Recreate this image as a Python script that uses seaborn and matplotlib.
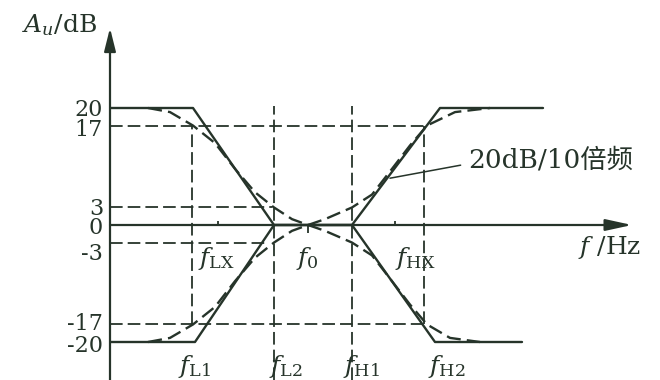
import numpy as np
import pandas as pd
import seaborn as sns
import matplotlib.pyplot as plt
from matplotlib.transforms import ScaledTranslation

# x positions are in "screen" units along the log-frequency axis, y in dB
f_marks = {"L1": 192, "L2": 274, "0": 308, "H1": 352, "H2": 424}
tick_vals = [20, 17, 3, 0, -3, -17, -20]
# small vertical nudges of the tick labels (pixels, + is down) as in the picture
tick_nudge = [0, 2, -1, 0, 9, -3, 2]

# asymptotes (solid)
up_x = [110, 193, 274, 352, 440, 543]
up_y = [20, 20, 0, 0, 20, 20]
lo_x = [110, 195, 274, 352, 435, 522]
lo_y = [-20, -20, 0, 0, -20, -20]

dl_x = [148, 170, 193, 215, 235, 255, 274, 292, 308]
dl_y = [20, 19.3, 17, 14.0, 9.6, 5.6, 3, 1.0, 0]
dr_x = [308, 325, 352, 372, 392, 410, 427, 455, 490]
dr_y = [0, 1.0, 3, 5.2, 9.6, 13.6, 17, 19.3, 20]
ll_x = [148, 170, 193, 215, 235, 255, 274, 292, 308]
ll_y = [-20, -19.3, -17, -14.0, -9.6, -5.6, -3, -1.0, 0]
lr_x = [308, 325, 352, 372, 392, 410, 427, 450, 480]
lr_y = [0, -1.0, -3, -5.2, -9.6, -13.6, -17, -19.3, -20]

sns.set_theme(style="white")
plt.rcParams["font.family"] = ["DejaVu Serif", "Noto Sans CJK SC"]
plt.rcParams["mathtext.fontset"] = "dejavuserif"

ink = "#26342a"
px = 5.85  # pixels per dB
ymin, ymax = (225 - 380) / px, 225 / px

fig = plt.figure(figsize=(6.6, 3.8), dpi=100)
ax = fig.add_axes([110 / 660, 0, (645 - 110) / 660, 1])
ax.set_xlim(110, 645)
ax.set_ylim(ymin, ymax)
for s in ax.spines.values():
    s.set_visible(False)

dash = (0, (7, 2.8))

# guide lines
ax.hlines([17, -17], 110, 424, color=ink, lw=1.3, linestyle=dash)
ax.hlines([3], 110, 272, color=ink, lw=1.3, linestyle=dash)
ax.hlines([-3], 110, 266, color=ink, lw=1.3, linestyle=dash)
ax.vlines([f_marks["L1"], f_marks["H2"]], -17, 17, color=ink, lw=1.3, linestyle=dash)
ax.vlines([f_marks["L2"], f_marks["H1"]], ymin, 20.3, color=ink, lw=1.3, linestyle=dash)

# asymptotes
sns.lineplot(x=up_x, y=up_y, sort=False, ax=ax, color=ink, lw=1.7)
sns.lineplot(x=lo_x, y=lo_y, sort=False, ax=ax, color=ink, lw=1.7)

# real curves
for xs, ys in [(dl_x, dl_y), (dr_x, dr_y), (ll_x, ll_y), (lr_x, lr_y)]:
    sns.lineplot(x=xs, y=ys, sort=False, ax=ax, color=ink, lw=1.7, linestyle=(0, (6, 2.6)))

# axes with arrows
ax.annotate("", xy=(110, (225 - 28) / px), xytext=(110, ymin),
            arrowprops=dict(arrowstyle="-|>,head_length=1.4,head_width=0.35",
                            color=ink, lw=1.6, mutation_scale=10, shrinkA=0, shrinkB=0))
ax.annotate("", xy=(632, 0), xytext=(110, 0),
            arrowprops=dict(arrowstyle="-|>,head_length=1.6,head_width=0.35",
                            color=ink, lw=1.6, mutation_scale=10, shrinkA=0, shrinkB=0))

# small marks on the frequency axis
ax.vlines([218, 395], 0, 0.7, color=ink, lw=1.3)
ax.vlines([f_marks["0"]], -1.4, 0, color=ink, lw=1.3)

ax.set_xticks([])
ax.set_yticks(tick_vals)
ax.set_yticklabels([str(v) for v in tick_vals])
ax.tick_params(axis="y", length=0, pad=5, labelsize=16, labelcolor=ink)
for lab, dy in zip(ax.get_yticklabels(), tick_nudge):
    lab.set_transform(lab.get_transform() + ScaledTranslation(0, -dy / 100, fig.dpi_scale_trans))

ax.text(97, 34.2, r"$A_u$/dB", ha="right", va="center", fontsize=18, color=ink)
ax.text(610, -3.9, r"$f$ /Hz", ha="center", va="center", fontsize=18, color=ink)

lab_y1 = (225 - 258) / px
lab_y2 = (225 - 367) / px
for name, xx in [("LX", 216), ("HX", 415)]:
    ax.text(xx, lab_y1, r"$f_{\rm %s}$" % name, ha="center", va="center", fontsize=18, color=ink)
ax.text(307, lab_y1, r"$f_0$", ha="center", va="center", fontsize=18, color=ink)
for name, xx in [("L1", 195), ("L2", 286), ("H1", 361), ("H2", 447)]:
    ax.text(xx, lab_y2, r"$f_{\rm %s}$" % name, ha="center", va="center", fontsize=18,
            color=ink, clip_on=False)

ax.annotate("20dB/10倍频", xy=(390, 8.0), xytext=(468, 11.1), ha="left", va="center",
            fontsize=19, color=ink,
            arrowprops=dict(arrowstyle="-", color=ink, lw=1.1, relpos=(0, 0.35),
                            shrinkA=3, shrinkB=0))

fig.savefig("out.png", dpi=100)
